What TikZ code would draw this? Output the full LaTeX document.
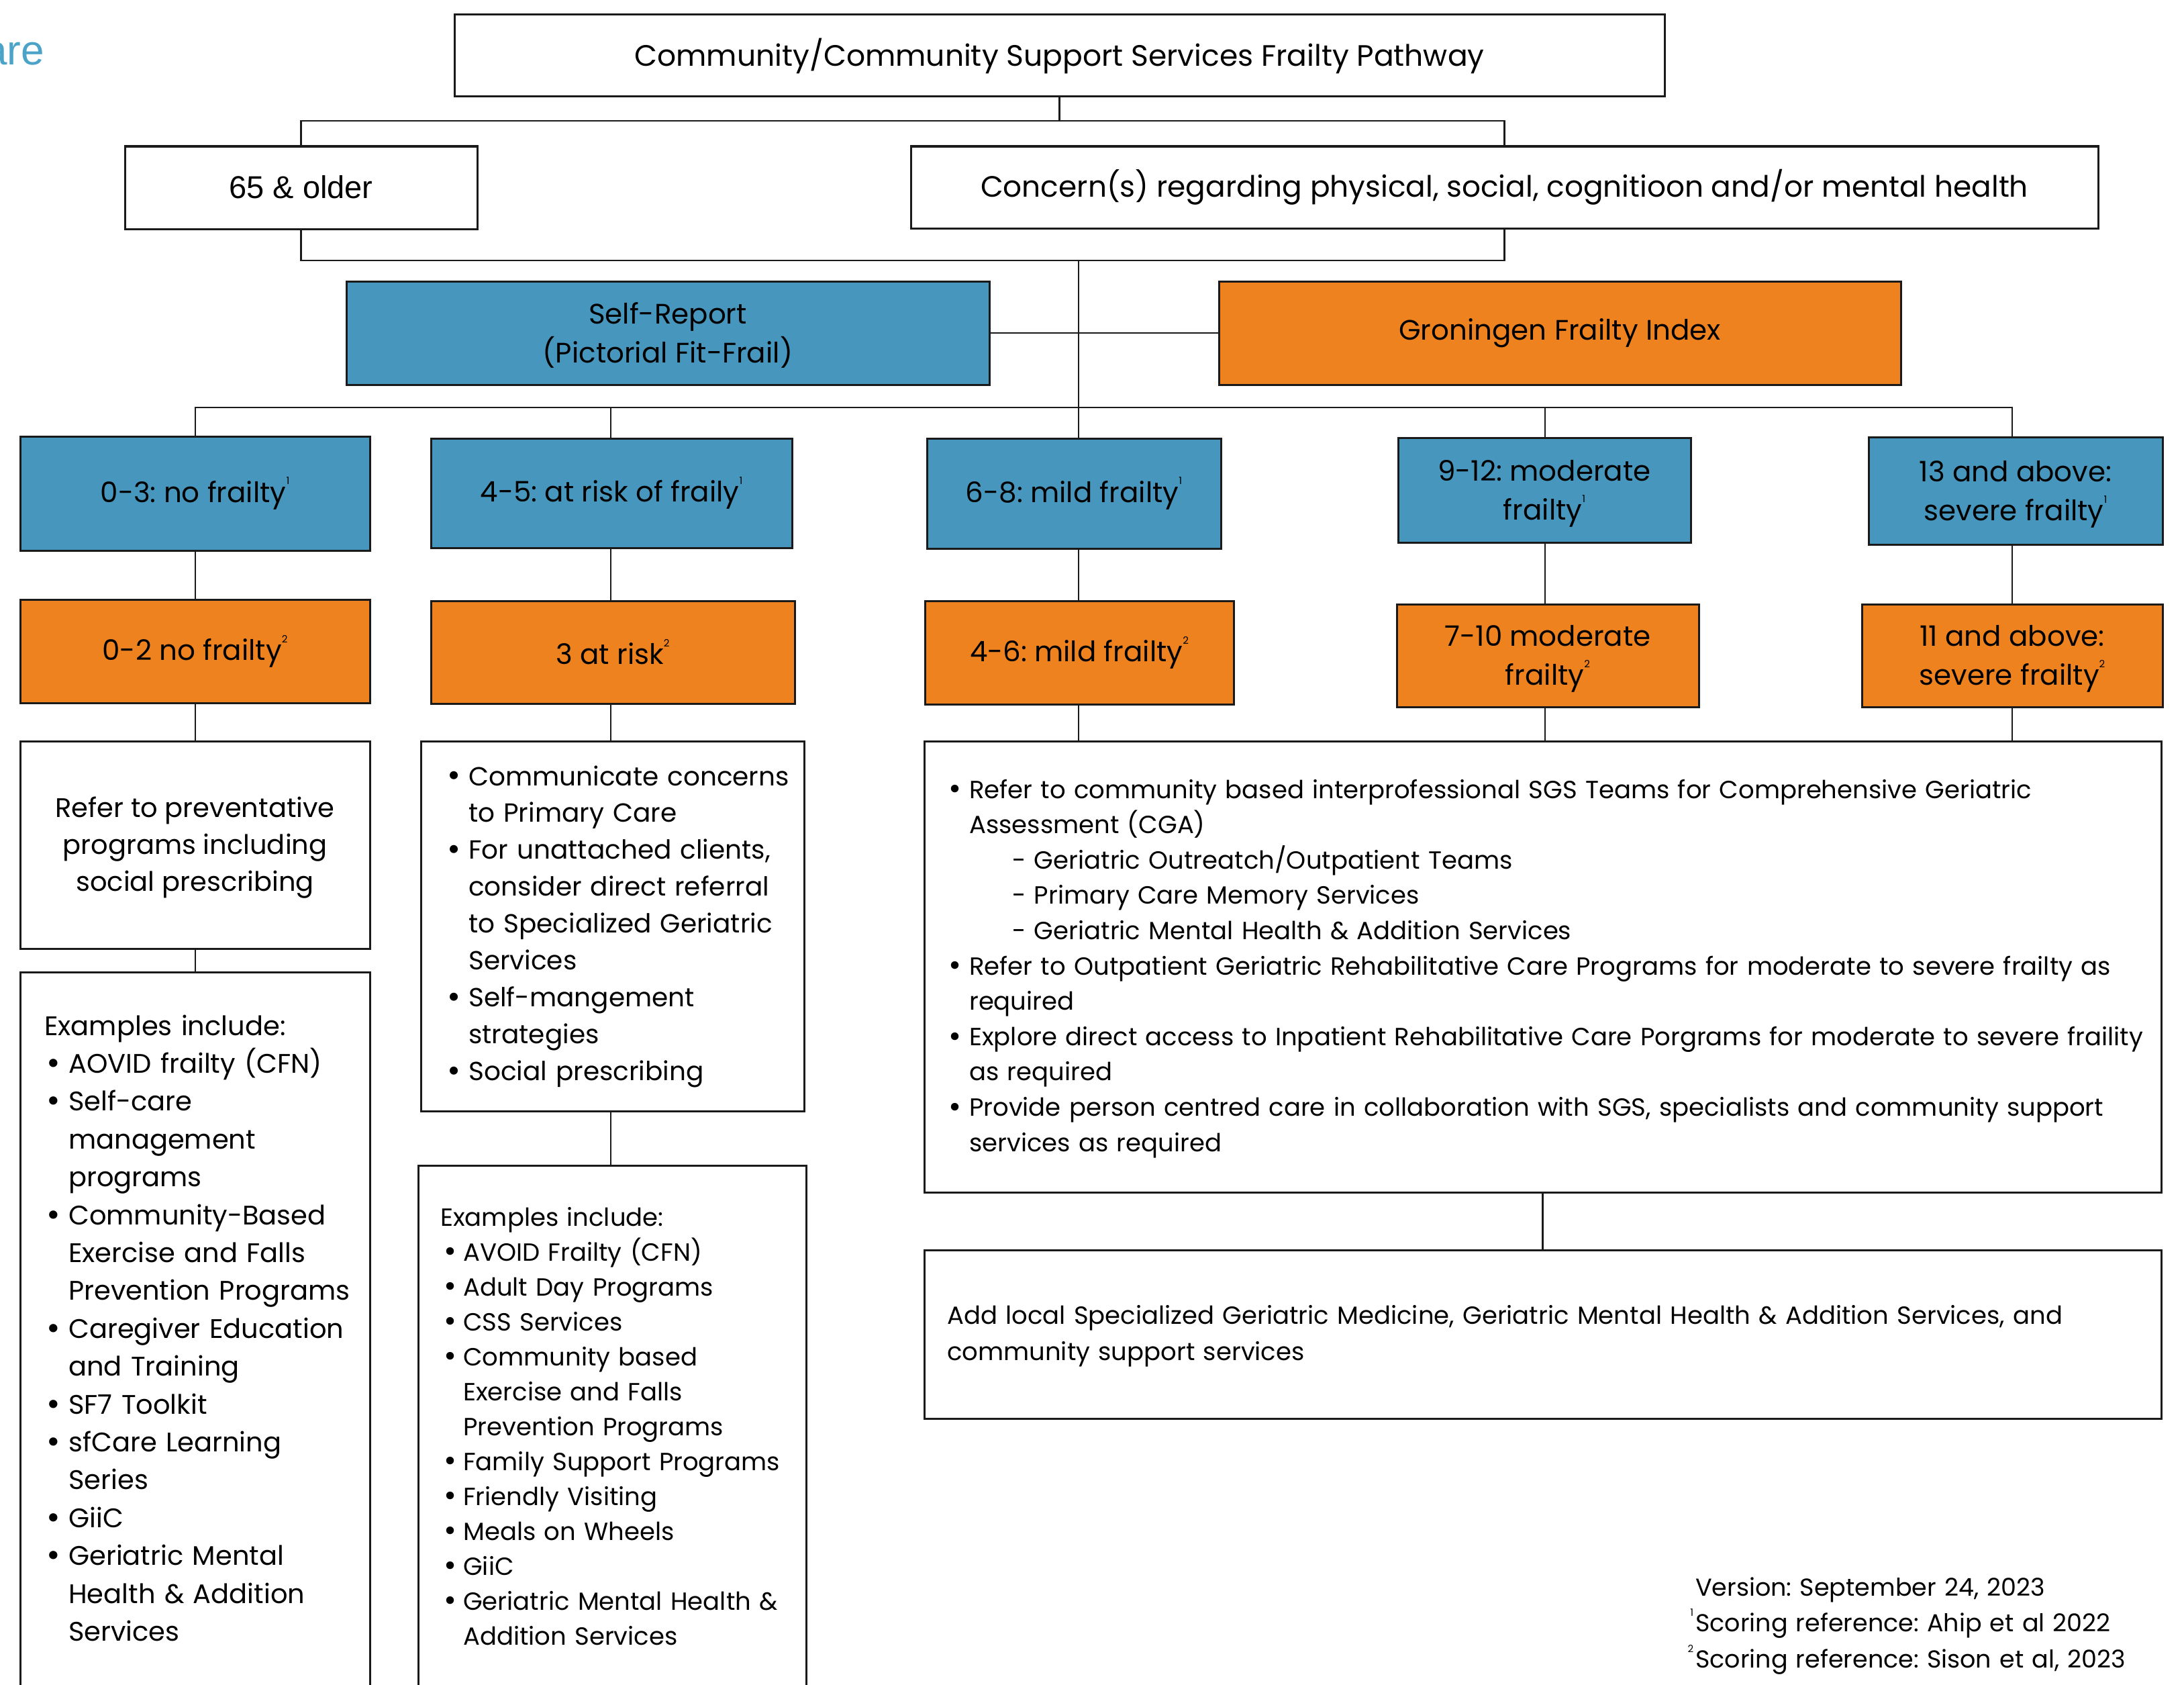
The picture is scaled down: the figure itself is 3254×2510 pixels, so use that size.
\documentclass[tikz,border=0pt]{standalone}
\usepackage{fontspec}
\setmainfont{Poppins}
\newfontfamily\arialf{Liberation Sans}
\usetikzlibrary{fit}
\definecolor{sblue}{HTML}{4796BD}
\definecolor{sorange}{HTML}{EE821F}
\definecolor{logob}{HTML}{4BA3C8}
\definecolor{edge}{HTML}{1A1A1A}
\newcommand\fsz[2]{\fontsize{#1}{#2}\selectfont}
\newcommand\sups[1]{\raisebox{0.62em}{\fontsize{15}{15}\selectfont #1}}
\newcommand\bitem[2]{\makebox[#1][l]{\hspace*{#2}\raisebox{-0.05em}{\scalebox{1.25}{•}}}}
\newcommand\bcont[1]{\hspace*{#1}}
\frenchspacing
\begin{document}
\begin{tikzpicture}[x=1pt,y=-1pt,
  box/.style={draw=edge, line width=3pt, inner sep=0pt},
  wbox/.style={box, fill=white},
  bbox/.style={box, fill=sblue},
  obox/.style={box, fill=sorange},
  conn/.style={draw=edge, line width=2.5pt},
  lbl/.style={inner sep=0pt, align=center, font=\fsz{42}{58}},
  two/.style={yshift=-5pt},
  body/.style={anchor=base west, inner sep=0pt, align=left}]
\useasboundingbox (0,0) rectangle (3254,2510);

\node[anchor=base east, inner sep=0pt, font=\arialf\fsz{62}{70}, text=logob] (logo) at (66,97) {are};

% column / junction coordinates
\coordinate (c1) at (291,0);
\coordinate (c2) at (910,0);
\coordinate (c3) at (1607,0);
\coordinate (c4) at (2302,0);
\coordinate (c5) at (2998,0);
\coordinate (t1) at (0,180);
\coordinate (t2) at (0,388);
\coordinate (r1) at (0,607);

% boxes
\node[wbox, fit={(677,22)(2480,144)}] (title) {};
\node[wbox, fit={(186,218)(711,341)}] (age) {};
\node[wbox, fit={(1357,218)(3126,340)}] (concern) {};
\node[bbox, fit={(516,419)(1474,573)}] (self) {};
\node[obox, fit={(1816,419)(2832,573)}] (gfi) {};
\node[bbox, fit={(30,650)(551,820)}] (b1) {};
\node[bbox, fit={(642,653)(1180,816)}] (b2) {};
\node[bbox, fit={(1381,653)(1819,817)}] (b3) {};
\node[bbox, fit={(2083,652)(2519,808)}] (b4) {};
\node[bbox, fit={(2784,651)(3222,811)}] (b5) {};
\node[obox, fit={(30,893)(551,1047)}] (o1) {};
\node[obox, fit={(642,895)(1184,1048)}] (o2) {};
\node[obox, fit={(1378,895)(1838,1049)}] (o3) {};
\node[obox, fit={(2081,900)(2531,1053)}] (o4) {};
\node[obox, fit={(2774,900)(3222,1053)}] (o5) {};
\node[wbox, fit={(30,1104)(551,1413)}] (refer) {};
\node[wbox, fit={(30,1448)(551,2545)}] (lex) {};
\node[wbox, fit={(627,1104)(1198,1655)}] (mbul) {};
\node[wbox, fit={(623,1736)(1201,2545)}] (mex) {};
\node[wbox, fit={(1377,1104)(3220,1776)}] (rbul) {};
\node[wbox, fit={(1377,1862)(3220,2113)}] (radd) {};

% box labels
\node[lbl, font=\fsz{44}{54}] (titleT) at (title.center) {Community/Community Support Services Frailty Pathway};
\node[lbl, font=\arialf\fsz{47}{54}, yshift=1pt] (ageT) at (age.center) {65 \& older};
\node[lbl, font=\fsz{43.8}{52}] (concernT) at (concern.center) {Concern(s) regarding physical, social, cognitioon and/or mental health};
\node[lbl, font=\fsz{42}{58}, yshift=-3pt] (selfT) at (self.center) {Self-Report\\(Pictorial Fit-Frail)};
\node[lbl, font=\fsz{42}{56}] (gfiT) at (gfi.center) {Groningen Frailty Index};
\node[lbl] (b1T) at (b1.center) {0-3: no frailty\sups{1}};
\node[lbl] (b2T) at (b2.center) {4-5: at risk of fraily\sups{1}};
\node[lbl] (b3T) at (b3.center) {6-8: mild frailty\sups{1}};
\node[lbl, two] (b4T) at (b4.center) {9-12: moderate\\frailty\sups{1}};
\node[lbl, two] (b5T) at (b5.center) {13 and above:\\severe frailty\sups{1}};
\node[lbl] (o1T) at (o1.center) {0-2 no frailty\sups{2}};
\node[lbl] (o2T) at (o2.center) {3 at risk\sups{2}};
\node[lbl] (o3T) at (o3.center) {4-6: mild frailty\sups{2}};
\node[lbl, two] (o4T) at (o4.center) {7-10 moderate\\frailty\sups{2}};
\node[lbl, two] (o5T) at (o5.center) {11 and above:\\severe frailty\sups{2}};
\node[lbl, font=\fsz{40}{55}, yshift=-4pt] (referT) at (refer.center) {Refer to preventative\\programs including\\social prescribing};

% connectors
\draw[conn] (title.south) -- (title.south |- t1);
\draw[conn] (age.north) -- (age.north |- t1) -- (concern.north |- t1) -- (concern.north);
\draw[conn] (age.south) -- (age.south |- t2) -- (concern.south |- t2) -- (concern.south);
\draw[conn] (c3 |- t2) -- (b3.north -| c3);
\draw[conn] (self.east) -- (gfi.west);
\draw[conn] (b1.north -| c1) -- (c1 |- r1) -- (c5 |- r1) -- (b5.north -| c5);
\draw[conn] (c2 |- r1) -- (b2.north -| c2);
\draw[conn] (c4 |- r1) -- (b4.north -| c4);
\draw[conn] (b1.south -| c1) -- (o1.north -| c1);
\draw[conn] (b2.south -| c2) -- (o2.north -| c2);
\draw[conn] (b3.south -| c3) -- (o3.north -| c3);
\draw[conn] (b4.south -| c4) -- (o4.north -| c4);
\draw[conn] (b5.south -| c5) -- (o5.north -| c5);
\draw[conn] (o1.south -| c1) -- (refer.north -| c1);
\draw[conn] (refer.south -| c1) -- (lex.north -| c1);
\draw[conn] (o2.south -| c2) -- (mbul.north -| c2);
\draw[conn] (mbul.south -| c2) -- (mex.north -| c2);
\draw[conn] (o3.south -| c3) -- (rbul.north -| c3);
\draw[conn] (o4.south -| c4) -- (rbul.north -| c4);
\draw[conn] (o5.south -| c5) -- (rbul.north -| c5);
\draw[conn] (rbul.south) -- (radd.north);

% body texts
\node[body, text width=480pt, font=\fsz{40}{56.4}] (lexT) at (66,1542) {Examples include:\\
\bitem{36pt}{3pt}AOVID frailty (CFN)\\
\bitem{36pt}{3pt}Self-care\\
\bcont{36pt}management\\
\bcont{36pt}programs\\
\bitem{36pt}{3pt}Community-Based\\
\bcont{36pt}Exercise and Falls\\
\bcont{36pt}Prevention Programs\\
\bitem{36pt}{3pt}Caregiver Education\\
\bcont{36pt}and Training\\
\bitem{36pt}{3pt}SF7 Toolkit\\
\bitem{36pt}{3pt}sfCare Learning\\
\bcont{36pt}Series\\
\bitem{36pt}{3pt}GiiC\\
\bitem{36pt}{3pt}Geriatric Mental\\
\bcont{36pt}Health \& Addition\\
\bcont{36pt}Services};

\node[body, text width=530pt, font=\fsz{39}{54.9}] (mbulT) at (666,1170) {\bitem{32pt}{0pt}Communicate concerns\\
\bcont{32pt}to Primary Care\\
\bitem{32pt}{0pt}For unattached clients,\\
\bcont{32pt}consider direct referral\\
\bcont{32pt}to Specialized Geriatric\\
\bcont{32pt}Services\\
\bitem{32pt}{0pt}Self-mangement\\
\bcont{32pt}strategies\\
\bitem{32pt}{0pt}Social prescribing};

\node[body, text width=540pt, font=\fsz{37}{52}] (mexT) at (656,1826) {Examples include:\\
\bitem{34pt}{5pt}AVOID Frailty (CFN)\\
\bitem{34pt}{5pt}Adult Day Programs\\
\bitem{34pt}{5pt}CSS Services\\
\bitem{34pt}{5pt}Community based\\
\bcont{34pt}Exercise and Falls\\
\bcont{34pt}Prevention Programs\\
\bitem{34pt}{5pt}Family Support Programs\\
\bitem{34pt}{5pt}Friendly Visiting\\
\bitem{34pt}{5pt}Meals on Wheels\\
\bitem{34pt}{5pt}GiiC\\
\bitem{34pt}{5pt}Geriatric Mental Health \&\\
\bcont{34pt}Addition Services};

\node[body, text width=1800pt, font=\fsz{37}{52.6}] (rbulT) at (1413,1189) {\bitem{31pt}{0pt}Refer to community based interprofessional SGS Teams for Comprehensive Geriatric\\
\bcont{31pt}Assessment (CGA)\\
\bcont{95pt}- Geriatric Outreatch/Outpatient Teams\\
\bcont{95pt}- Primary Care Memory Services\\
\bcont{95pt}- Geriatric Mental Health \& Addition Services\\
\bitem{31pt}{0pt}Refer to Outpatient Geriatric Rehabilitative Care Programs for moderate to severe frailty as\\
\bcont{31pt}required\\
\bitem{31pt}{0pt}Explore direct access to Inpatient Rehabilitative Care Porgrams for moderate to severe fraility\\
\bcont{31pt}as required\\
\bitem{31pt}{0pt}Provide person centred care in collaboration with SGS, specialists and community support\\
\bcont{31pt}services as required};

\node[body, text width=1800pt, font=\fsz{37}{54}] (raddT) at (1411,1972) {Add local Specialized Geriatric Medicine, Geriatric Mental Health \& Addition Services, and\\
community support services};

\node[body, text width=700pt, font=\fsz{36.5}{53.5}] (foot) at (2526,2377) {Version: September 24, 2023\\
\leavevmode\llap{\sups{1}\hspace{3pt}}Scoring reference: Ahip et al 2022\\
\leavevmode\llap{\sups{2}\hspace{3pt}}Scoring reference: Sison et al, 2023};
\end{tikzpicture}
\end{document}
